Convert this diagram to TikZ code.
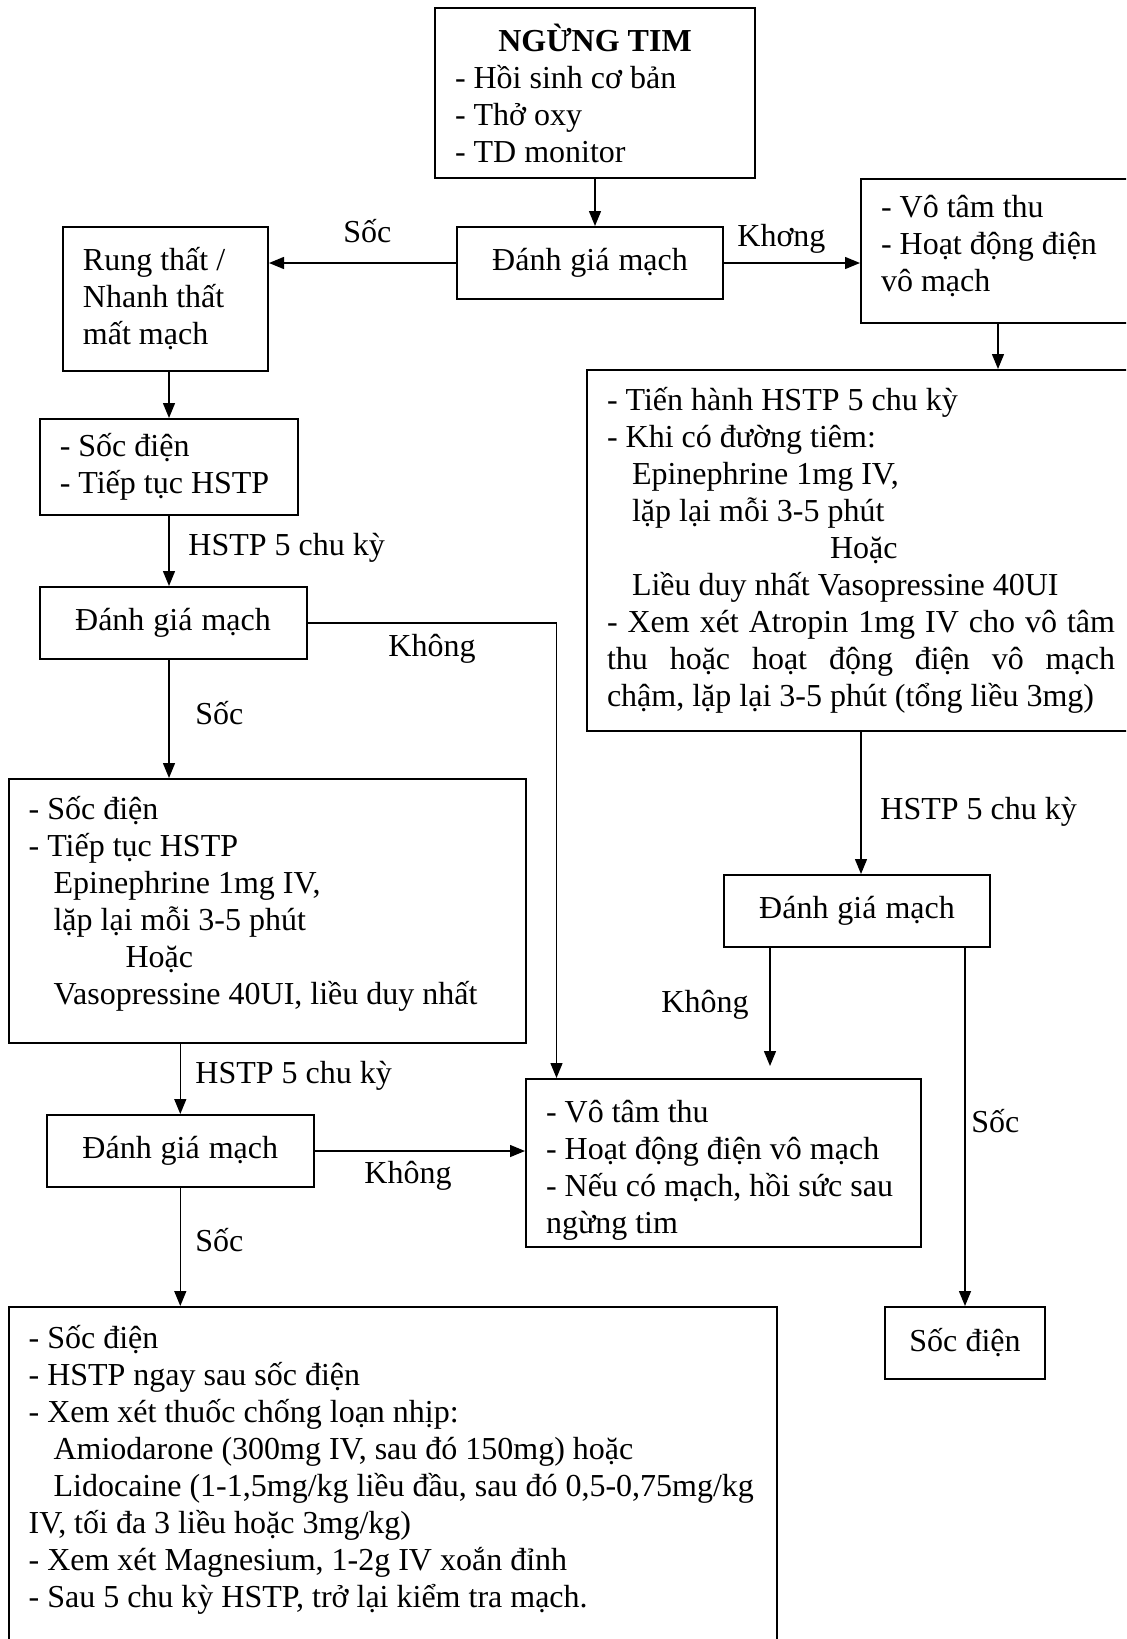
\documentclass[tikz,border=0pt]{standalone}
\usepackage{fontspec}
\setmainfont{Liberation Serif}
\usetikzlibrary{arrows.meta}

\begin{document}
\begin{tikzpicture}[x=0.5pt,y=-0.5pt,>={Triangle[length=7.5pt,width=6pt]},
  font=\fontsize{16pt}{18.5pt}\selectfont,
  execute at begin node={\spaceskip=0pt\xspaceskip=0pt},
  box/.style={draw,line width=1pt,inner xsep=10pt,inner ysep=0pt,align=left},
  ctr/.style={box,align=center},
  lbl/.style={inner sep=0pt,anchor=west},
  arr/.style={->,line width=0.7pt}]
  \useasboundingbox (0,0) rectangle (1126,1639);
  \clip (0,0) rectangle (1126,1639);

  \node[box,minimum width=160pt,minimum height=85pt,text width=140pt] (arrest) at (595,93)
    {\makebox[140pt]{\bfseries NGỪNG TIM}\\- Hồi sinh cơ bản\\- Thở oxy\\- TD monitor};
  \node[ctr,minimum width=133pt,minimum height=36pt,text width=113pt] (check1) at (590,263) {Đánh giá mạch};
  \node[box,minimum width=102.5pt,minimum height=72pt,text width=82.5pt] (vf) at (165.5,299)
    {Rung thất /\\Nhanh thất\\mất mạch};
  \node[box,minimum width=137pt,minimum height=72pt,text width=117pt] (asys) at (998,251)
    {- Vô tâm thu\\\mbox{- Hoạt động điện}\\vô mạch\rule[-7.5pt]{0pt}{1pt}};
  \node[box,minimum width=274pt,minimum height=180.5pt,text width=254pt] (cpr) at (861,550.5)
    {- Tiến hành HSTP 5 chu kỳ\\
     - Khi có đường tiêm:\\
     \hspace*{12.5pt}Epinephrine 1mg IV,\\
     \hspace*{12.5pt}lặp lại mỗi 3-5 phút\\
     \hspace*{111.5pt}Hoặc\\
     \hspace*{12.5pt}Liều duy nhất Vasopressine 40UI\\
     \makebox[254pt][s]{- Xem xét Atropin 1mg IV cho vô tâm}\\
     \makebox[254pt][s]{thu hoặc hoạt động điện vô mạch}\\
     chậm, lặp lại 3-5 phút (tổng liều 3mg)};
  \node[box,minimum width=129.25pt,minimum height=48pt,text width=109.25pt] (shock1) at (169,467)
    {- Sốc điện\\\mbox{- Tiếp tục HSTP}};
  \node[ctr,minimum width=133.5pt,minimum height=36pt,text width=113.5pt] (check2) at (173,623) {Đánh giá mạch};
  \node[box,minimum width=258.7pt,minimum height=132pt,text width=238.7pt] (shock2) at (267.3,911)
    {- Sốc điện\\
     - Tiếp tục HSTP\\
     \hspace*{12.5pt}Epinephrine 1mg IV,\\
     \hspace*{12.5pt}lặp lại mỗi 3-5 phút\\
     \hspace*{48.5pt}Hoặc\\
     \hspace*{12.5pt}Vasopressine 40UI, liều duy nhất\\[-8pt]
     \mbox{}};
  \node[ctr,minimum width=133pt,minimum height=36pt,text width=113pt] (check3) at (857,911) {Đánh giá mạch};
  \node[ctr,minimum width=133.5pt,minimum height=36pt,text width=113.5pt] (check4) at (180.3,1151) {Đánh giá mạch};
  \node[box,minimum width=197.5pt,minimum height=84pt,text width=177.5pt] (pea) at (723.5,1163)
    {\rule{0pt}{18.4pt}- Vô tâm thu\\\mbox{- Hoạt động điện vô mạch}\\\mbox{- Nếu có mạch, hồi sức sau}\\ngừng tim};
  \node[ctr,minimum width=80pt,minimum height=36pt,text width=60pt] (shock4) at (965,1343) {Sốc điện};
  \node[box,minimum width=384.2pt,minimum height=196.5pt,text width=364.2pt] (shock3) at (392.8,1503.5)
    {- Sốc điện\\
     - HSTP ngay sau sốc điện\\
     - Xem xét thuốc chống loạn nhịp:\\
     \hspace*{12.5pt}Amiodarone (300mg IV, sau đó 150mg) hoặc\\
     \mbox{\hspace*{12.5pt}Lidocaine (1-1,5mg/kg liều đầu, sau đó 0,5-0,75mg/kg}\\
     IV, tối đa 3 liều hoặc 3mg/kg)\\
     - Xem xét Magnesium, 1-2g IV xoắn đỉnh\\
     - Sau 5 chu kỳ HSTP, trở lại kiểm tra mạch.\\
     \mbox{}\\
     \mbox{}};

  \coordinate (k1) at (556.5,0);
  \coordinate (k2) at (770,1066);

  \draw[arr] (arrest.south) -- (arrest.south |- check1.north);
  \draw[arr] (check1.west) -- (check1.west -| vf.east);
  \draw[arr] (check1.east) -- (check1.east -| asys.west);
  \draw[arr] (asys.south) -- (asys.south |- cpr.north);
  \draw[arr] (vf.south -| shock1.north) -- (shock1.north);
  \draw[arr] (shock1.south) -- (shock1.south |- check2.north);
  \draw[arr] (check2.south -| shock1.south) -- (shock1.south |- shock2.north);
  \draw[arr] (check2.east) -| (k1 |- pea.north);
  \draw[arr] (shock2.south -| check4.north) -- (check4.north);
  \draw[arr] (check4.east) -- (check4.east -| pea.west);
  \draw[arr] (check4.south) -- (check4.south |- shock3.north);
  \draw[arr] (cpr.south) -- (cpr.south |- check3.north);
  \draw[arr] (k2 |- check3.south) -- (k2);
  \draw[arr] (shock4.north |- check3.south) -- (shock4.north);

  \node[lbl] (l1) at (343,231) {Sốc};
  \node[lbl] (l2) at (737,239) {Khơng};
  \node[lbl] (l3) at (188,548) {HSTP 5 chu kỳ};
  \node[lbl] (l4) at (388,649) {Không};
  \node[lbl] (l5) at (195,713) {Sốc};
  \node[lbl] (l6) at (880,812) {HSTP 5 chu kỳ};
  \node[lbl] (l7) at (661,1005) {Không};
  \node[lbl] (l8) at (195,1076) {HSTP 5 chu kỳ};
  \node[lbl] (l9) at (364,1176) {Không};
  \node[lbl] (l10) at (971,1121) {Sốc};
  \node[lbl] (l11) at (195,1240) {Sốc};
\end{tikzpicture}
\end{document}
